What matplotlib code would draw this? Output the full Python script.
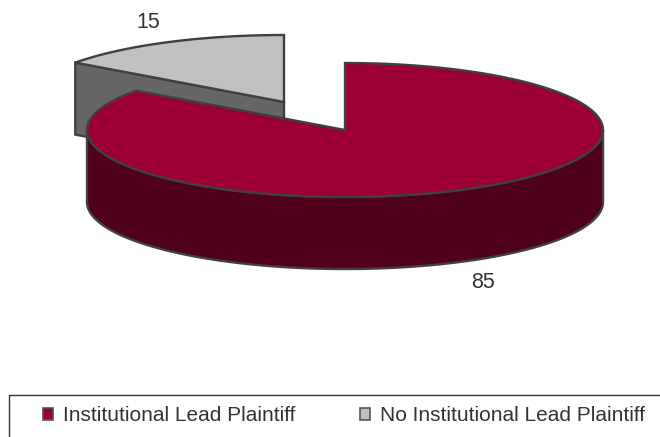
import numpy as np
import matplotlib
matplotlib.use("Agg")
import matplotlib.pyplot as plt
from matplotlib.patches import Polygon, Patch, Rectangle

labels = ["Institutional Lead Plaintiff", "No Institutional Lead Plaintiff"]
values = [85, 15]

plt.rcParams['font.family'] = ['Liberation Sans', 'DejaVu Sans']

# pie geometry, in pixels of the picture
cx, cy = 345, 130
rx, ry = 258, 67
depth = 72
explode_dx, explode_dy = -61, -28
edge = "#404040"
lw = 1.7

fig = plt.figure(figsize=(6.6, 4.37), dpi=100)
ax = fig.add_axes([0, 0, 1, 1])
ax.set_xlim(0, 660)
ax.set_ylim(437, 0)
ax.axis("off")


def rim(f0, f1, x0=cx, y0=cy, n=200):
    # points on the ellipse, fractions run clockwise from 12 o'clock
    t = np.linspace(f0, f1, n) * 2 * np.pi
    return np.column_stack([x0 + rx * np.sin(t), y0 - ry * np.cos(t)])


total = sum(values)
split = values[0] / total

# exploded grey slice, wall first and then the top
gx, gy = cx + explode_dx, cy + explode_dy
grey_rim = rim(split, 1, gx, gy)
corner = grey_rim[0]
wall = [corner, [gx, gy], [gx, gy + depth], [corner[0], corner[1] + depth]]
ax.add_patch(Polygon(wall, fc="#666666", ec=edge, lw=lw))
ax.add_patch(Polygon(np.vstack([[gx, gy], grey_rim]), fc="#C0C0C0", ec=edge, lw=lw))

# red slice: the front wall covers the lower half of the ellipse
front = rim(0.25, 0.75)
side = np.vstack([front, (front + [0, depth])[::-1]])
ax.add_patch(Polygon(side, fc="#4F001C", ec=edge, lw=lw))
ax.add_patch(Polygon(np.vstack([[cx, cy], rim(0, split)]), fc="#9C0033", ec=edge, lw=lw))

ax.text(148, 22.5, str(values[1]), fontsize=15.5, color="#333333", ha="center", va="center")
ax.text(483, 283, str(values[0]), fontsize=15.5, color="#333333", ha="center", va="center")

# legend box runs off the right and bottom of the picture
ax.add_patch(Rectangle((9, 395), 700, 80, fc="white", ec="#333333", lw=1))

handles = [Patch(fc="#9C0033", ec="#555555", lw=1.2), Patch(fc="#C0C0C0", ec="#555555", lw=1.2)]
leg = ax.legend(handles, labels, ncol=2, loc="upper left", bbox_to_anchor=(43 / 660, 1 - 406 / 437),
                bbox_transform=ax.transAxes, fontsize=15, frameon=False, borderaxespad=0, borderpad=0,
                handlelength=0.48, handleheight=0.5, handletextpad=0.48, columnspacing=3.1,
                labelcolor="#333333")

fig.savefig("out.png", dpi=100)
